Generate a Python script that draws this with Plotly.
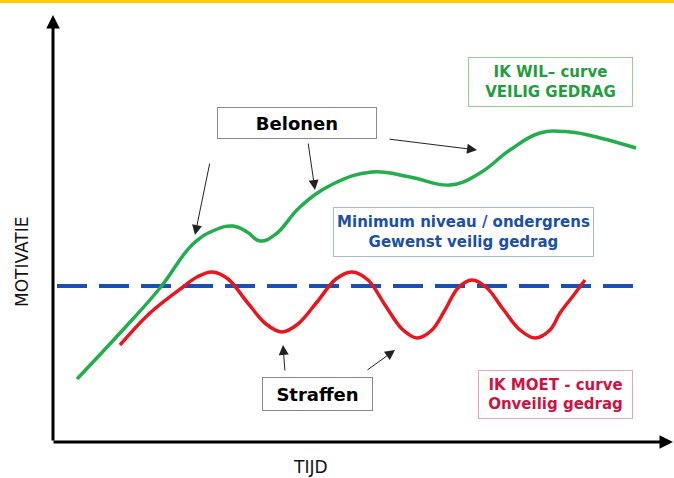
import plotly.graph_objects as go

H = 478  # motivation = H - pixel row
# Curves: time (x) and motivation (y)
wil_time = [77, 120, 160, 193, 215, 233, 247, 260, 276, 300, 333, 372, 410, 450, 480, 510, 540, 570, 600, 636]
wil_row = [379, 333, 288, 244, 230, 226, 232, 241, 234, 207, 184, 172, 177, 185, 173, 150, 133, 132, 138, 148]
moet_time = [120, 150, 183, 197, 212, 228, 247, 266, 282, 298, 317, 336, 352, 368, 385, 402, 417, 432, 445, 458, 472, 487, 503, 520, 535, 550, 560, 573, 585]
moet_row = [345, 313, 287, 277, 272, 279, 302, 324, 332, 324, 302, 279, 272, 280, 305, 329, 338, 330, 310, 288, 280, 288, 309, 330, 338, 330, 313, 296, 280]
min_time = [57, 636]
min_row = 286

wil_motivatie = [H - r for r in wil_row]
moet_motivatie = [H - r for r in moet_row]
min_motivatie = [H - min_row, H - min_row]

FONT = "Verdana, DejaVu Sans, sans-serif"
GREEN = "#22AE4C"
RED = "#E8161E"
BLUE = "#1A4FB6"

fig = go.Figure()
fig.add_trace(go.Scatter(x=min_time, y=min_motivatie, mode="lines",
                         line=dict(color=BLUE, width=4, dash="30px,12px"), hoverinfo="skip"))
fig.add_trace(go.Scatter(x=wil_time, y=wil_motivatie, mode="lines",
                         line=dict(color=GREEN, width=3.5, shape="spline", smoothing=1.2), hoverinfo="skip"))
fig.add_trace(go.Scatter(x=moet_time, y=moet_motivatie, mode="lines",
                         line=dict(color=RED, width=3.5, shape="spline", smoothing=1.0), hoverinfo="skip"))

ann = []
# axes as arrows
ann.append(dict(x=53, y=H - 15, ax=53, ay=H - 442, xref="x", yref="y", axref="x", ayref="y",
                text="", showarrow=True, arrowhead=2, arrowsize=0.9, arrowwidth=3, arrowcolor="black", standoff=0))
ann.append(dict(x=673, y=H - 442, ax=52, ay=H - 442, xref="x", yref="y", axref="x", ayref="y",
                text="", showarrow=True, arrowhead=2, arrowsize=0.9, arrowwidth=3, arrowcolor="black", standoff=0))

# thin pointer arrows
pointers = [((210, 162), (195, 235)), ((308, 142), (315, 190)), ((388, 139), (477, 150)),
            ((285, 372), (283, 345)), ((366, 371), (395, 350))]
for (tx, ty), (hx, hy) in pointers:
    ann.append(dict(x=hx, y=H - hy, ax=tx, ay=H - ty, xref="x", yref="y", axref="x", ayref="y",
                    text="", showarrow=True, arrowhead=2, arrowsize=2, arrowwidth=1,
                    arrowcolor="#222222", standoff=0))

def box(cx, cy, w, h, text, color, size, border):
    return dict(x=cx, y=H - cy, xref="x", yref="y", text=text, showarrow=False,
                font=dict(family=FONT, size=size, color=color), align="center",
                width=w - 2, height=h - 2, bordercolor=border, borderwidth=1, borderpad=0,
                bgcolor="white", xanchor="center", yanchor="middle")

ann.append(box(550.5, 82, 165, 50, "<b>IK WIL– curve<br>VEILIG GEDRAG</b>", "#1E9E3C", 15, "#93CF93"))
ann.append(box(297, 123, 160, 32, "<b>Belonen</b>", "black", 18, "#8A8A8A"))
ann.append(box(463.5, 231.5, 261, 50, "<b>Minimum niveau / ondergrens<br>Gewenst veilig gedrag</b>", "#1B4FA8", 15, "#A9BACD"))
ann.append(box(317.5, 394, 111, 34, "<b>Straffen</b>", "black", 18, "#8A8A8A"))
ann.append(box(555.5, 394.5, 155, 49, "<b>IK MOET - curve<br>Onveilig gedrag</b>", "#D01242", 15, "#E2A8B8"))

# axis titles
ann.append(dict(x=310, y=H - 467, xref="x", yref="y", text="TIJD", showarrow=False,
                font=dict(family="DejaVu Sans", size=17, color="#111111")))
ann.append(dict(x=22, y=H - 262, xref="x", yref="y", text="MOTIVATIE", showarrow=False, textangle=-90,
                font=dict(family="DejaVu Sans", size=17, color="#111111")))

fig.update_layout(
    width=674, height=478, margin=dict(l=0, r=0, t=0, b=0),
    paper_bgcolor="white", plot_bgcolor="white", showlegend=False,
    xaxis=dict(range=[0, 674], visible=False, fixedrange=True),
    yaxis=dict(range=[0, 478], visible=False, fixedrange=True),
    annotations=ann,
    shapes=[dict(type="rect", xref="paper", yref="paper", x0=0, x1=1, y0=1 - 3 / 478, y1=1,
                 fillcolor="#FFCC00", line=dict(width=0))],
)

fig.write_html("out.html", config={"displayModeBar": False},
               post_script="document.body.style.margin='0';document.body.style.overflow='hidden';")
